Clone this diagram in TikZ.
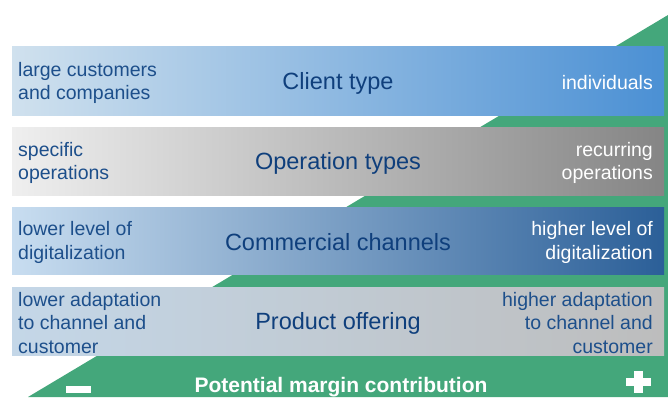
\documentclass[tikz,border=0pt]{standalone}
\usepackage{fontspec}
\setmainfont{Liberation Sans}
\definecolor{grn}{HTML}{44A77B}
\definecolor{dblue}{HTML}{1D4F8B}
\definecolor{tblue}{HTML}{0F3F7C}
\definecolor{b1l}{HTML}{D0E1EE}
\definecolor{b1r}{HTML}{4B90D4}
\definecolor{b2l}{HTML}{EFEFEF}
\definecolor{b2r}{HTML}{858585}
\definecolor{b3l}{HTML}{C8DDF0}
\definecolor{b3r}{HTML}{2B5F98}
\definecolor{b4l}{HTML}{C4D7E8}
\definecolor{b4r}{HTML}{BDBDBD}
\tikzset{
  side/.style={font=\fontsize{19.5}{23.5}\selectfont, inner sep=0pt},
  lefttext/.style={side, anchor=west, align=left, text=dblue},
  righttext/.style={side, anchor=east, align=right},
  title/.style={font=\fontsize{23.5}{28}\selectfont, text=tblue, inner sep=0pt},
}
\begin{document}
\begin{tikzpicture}[x=1pt,y=1pt]
\useasboundingbox (0,0) rectangle (668,397);
% green triangle
\fill[grn] (28,0) -- (668,382) -- (668,0) -- cycle;
% bars
\shade[left color=b1l, right color=b1r] (12,350) rectangle (664,282);
\shade[left color=b2l, right color=b2r] (12,270) rectangle (664,202);
\shade[left color=b3l, right color=b3r] (12,190) rectangle (664,123);
\shade[left color=b4l, right color=b4r] (12,110) rectangle (664,42);
% bar 1
\node[lefttext] (l1) at (18,314) {large customers\\and companies};
\node[title] (t1) at (338,314) {Client type};
\node[righttext, text=white] (r1) at (653,314) {individuals};
% bar 2
\node[lefttext] (l2) at (18,234) {specific\\operations};
\node[title] (t2) at (338,234) {Operation types};
\node[righttext, text=white] (r2) at (653,234) {recurring\\operations};
% bar 3
\node[lefttext] (l3) at (18,154.5) {lower level of\\digitalization};
\node[title] (t3) at (338,154.5) {Commercial channels};
\node[righttext, text=white] (r3) at (653,154.5) {higher level of\\digitalization};
% bar 4
\node[lefttext] (l4) at (18,74) {lower adaptation\\to channel and\\customer};
\node[title] (t4) at (338,74) {Product offering};
\node[righttext, text=dblue] (r4) at (653,74) {higher adaptation\\to channel and\\customer};
% bottom
\node[font=\fontsize{21}{25}\selectfont\bfseries, text=white, inner sep=0pt] (pm) at (341,10) {Potential margin contribution};
\fill[white] (66,4) rectangle (91,11);
\fill[white] (626,11) rectangle (651,19);
\fill[white] (634,4) rectangle (643,26);
\end{tikzpicture}
\end{document}
